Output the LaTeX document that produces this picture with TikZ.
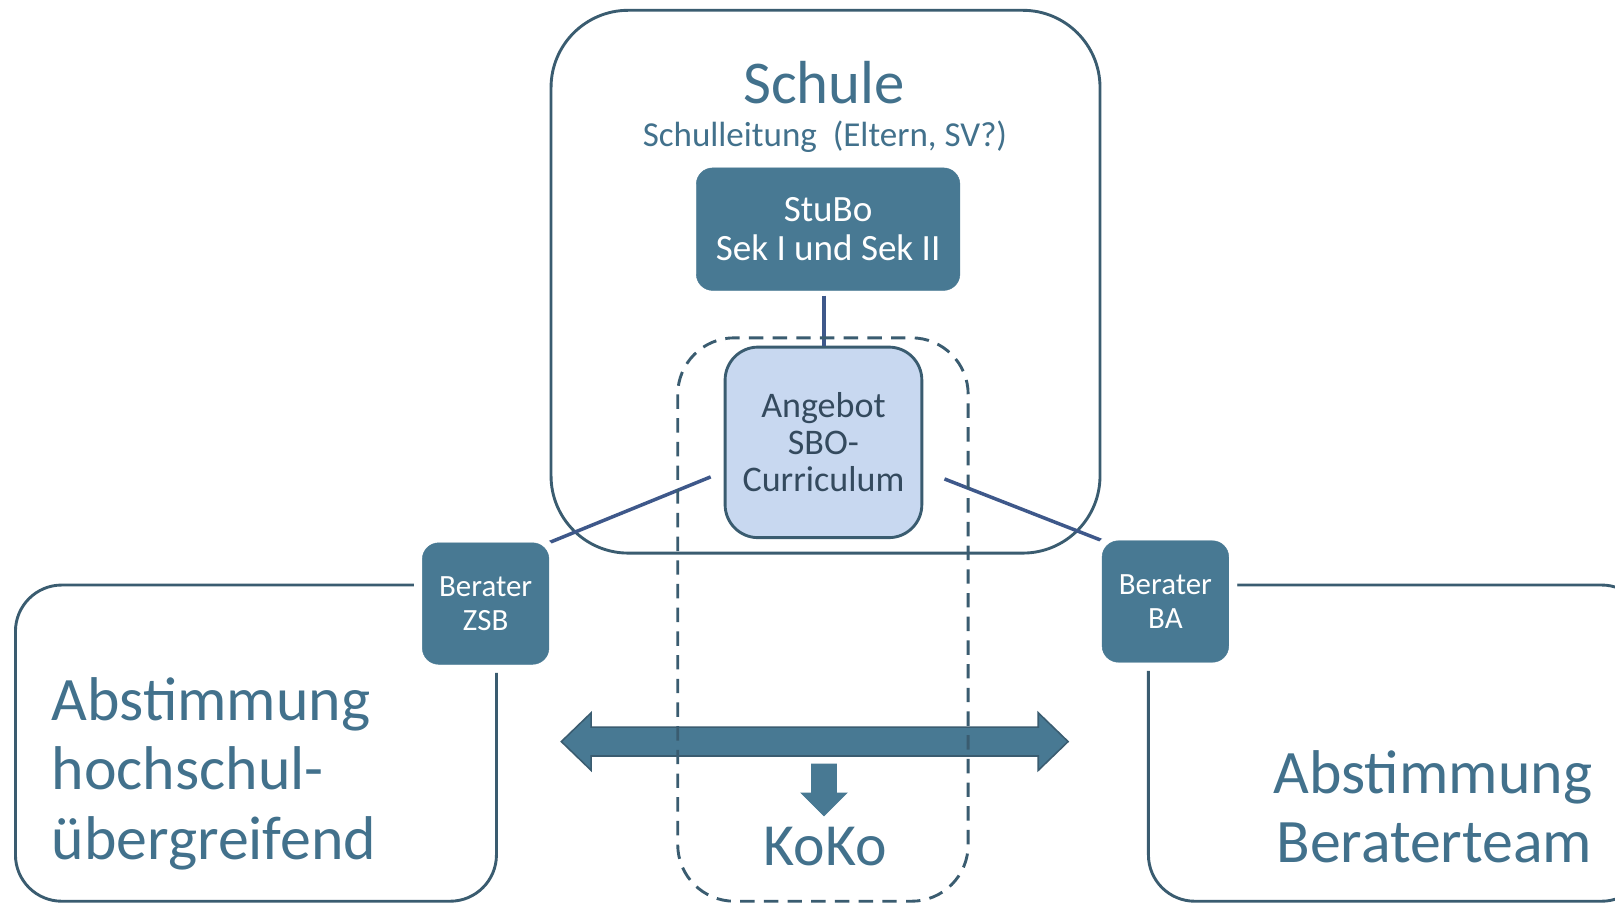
\documentclass[tikz,border=0pt]{standalone}
\usepackage{fontspec}
\setmainfont{Carlito}
\usetikzlibrary{positioning}
\definecolor{dark}{RGB}{72,121,147}
\definecolor{edge}{RGB}{58,92,112}
\definecolor{conn}{RGB}{62,88,138}
\definecolor{light}{RGB}{200,216,240}
\definecolor{txt}{RGB}{66,113,140}
\definecolor{txtdark}{RGB}{52,74,94}
\tikzset{
  frame/.style={draw=edge, line width=2.8pt},
  darkbox/.style={fill=dark, draw=dark, text=white, rounded corners=16pt, align=center, inner sep=0pt},
  beraterbox/.style={darkbox, minimum width=123pt, minimum height=118pt, font=\fontsize{30}{33}\selectfont,
     preaction={draw=white, line width=16pt}},
  link/.style={draw=conn, line width=3.4pt},
  bigtext/.style={text=txt, font=\fontsize{60}{67}\selectfont, inner sep=0pt},
}
\begin{document}
\begin{tikzpicture}[x=1pt,y=-1pt]
\useasboundingbox (0,0) rectangle (1568,877);
\fill[white] (0,0) rectangle (1568,877);
% frames
\draw[frame, rounded corners=75pt] (535,10) rectangle (1068,537);
\draw[frame, rounded corners=45pt] (15,568) rectangle (482,875);
\draw[frame, rounded corners=45pt] (1115,568) rectangle (1600,875);
% titles
\node[text=txt, font=\fontsize{59}{62}\selectfont, inner sep=0pt] (schule) at (800,80) {Schule};
\node[text=txt, font=\fontsize{34}{38}\selectfont, inner sep=0pt] (leitung) at (801,133) {Schulleitung\ \ (Eltern, SV?)};
% StuBo
\node[darkbox, minimum width=256pt, minimum height=119pt, font=\fontsize{36}{38}\selectfont] (stubo) at (804,222.5) {StuBo\\Sek I und Sek II};
% Angebot
\node[fill=light, draw=edge, line width=2.8pt, rounded corners=32pt, minimum width=191pt, minimum height=185pt,
      text=txtdark, align=center, inner sep=0pt, font=\fontsize{35}{36}\selectfont] (angebot) at (799.5,429.5) {Angebot\\SBO-\\Curriculum};
% Berater
\node[beraterbox] (zsb) at (471.5,586) {Berater\\ZSB};
\node[beraterbox] (ba) at (1131.5,584) {Berater\\BA};
\coordinate (la) at (690,463);
\coordinate (ra) at (917,465);
\coordinate (sbot) at (800,287);
\draw[link] (sbot) -- (angebot.north -| sbot);
\draw[link] (la) -- (zsb.north east);
\draw[link] (ra) -- (ba.north west);
% redraw Berater on top of links
\node[beraterbox] at (zsb) {Berater\\ZSB};
\node[beraterbox] at (ba) {Berater\\BA};
% side texts
\node[bigtext, anchor=base west] (ab1) at (50,700) {Abstimmung};
\node[bigtext, anchor=base west] (ab2) at (50,767) {hochschul-};
\node[bigtext, anchor=base west] (ab3) at (50,834) {übergreifend};
\node[bigtext, anchor=base east] (bt1) at (1546,770) {Abstimmung};
\node[bigtext, anchor=base east] (bt2) at (1546,837) {Beraterteam};
% arrows
\draw[fill=dark, draw=edge, line width=1.5pt, line join=miter]
  (545,720) -- (574,692) -- (574,706) -- (1008,706) -- (1008,692) -- (1037,720)
  -- (1008,748) -- (1008,734) -- (574,734) -- (574,748) -- cycle;
\draw[fill=dark, draw=dark, line width=1pt]
  (788,742) -- (812,742) -- (812,770) -- (822,770) -- (800,792) -- (778,770) -- (788,770) -- cycle;
\node[text=txt, font=\fontsize{58}{60}\selectfont, inner sep=0pt, anchor=base] (koko) at (801,840) {KoKo};
% dashed KoKo frame
\draw[draw=edge, line width=2.8pt, dash pattern=on 14pt off 9pt, rounded corners=55pt] (658,328) rectangle (940,875);
\end{tikzpicture}
\end{document}
